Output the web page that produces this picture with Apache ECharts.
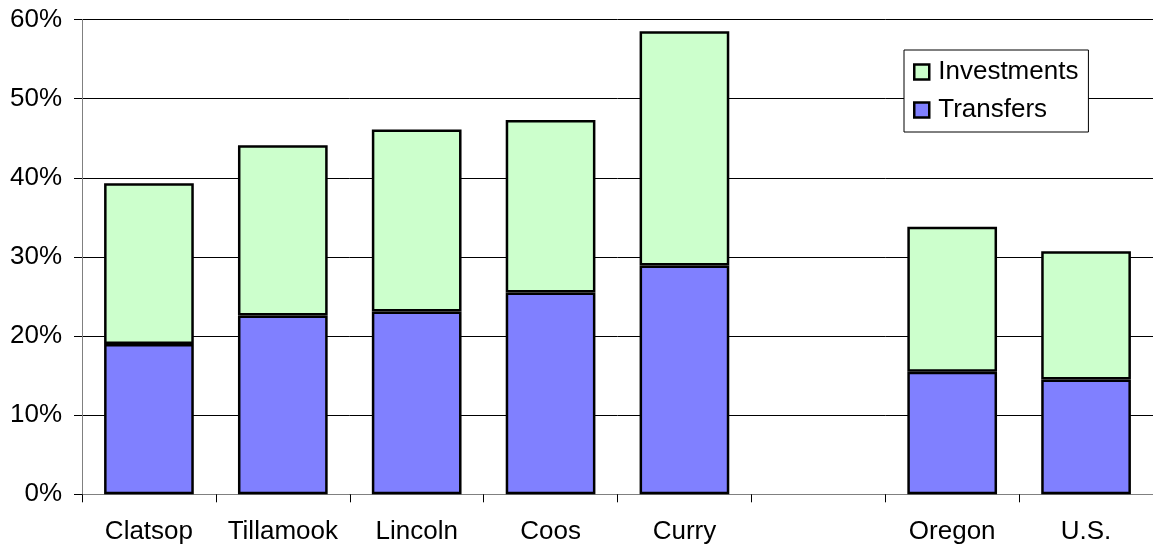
<!DOCTYPE html>
<html>
<head>
<meta charset="utf-8">
<script src="https://cdn.jsdelivr.net/npm/echarts@6/dist/echarts.min.js"></script>
<style>
  html, body { margin: 0; padding: 0; background: #fff; }
  #chart { width: 1153px; height: 548px; }
</style>
</head>
<body>
<div id="chart"></div>
<script>
// Income sources as a share of personal income, by county
const categories = ['Clatsop', 'Tillamook', 'Lincoln', 'Coos', 'Curry', '', 'Oregon', 'U.S.'];
const transfers   = [19.0, 22.6, 23.1, 25.5, 28.9, null, 15.5, 14.5];
const investments = [20.3, 21.5, 23.0, 21.8, 29.6, null, 18.3, 16.2];
const yTicks = [0, 10, 20, 30, 40, 50, 60];

const FONT = '"Liberation Sans", Arial, sans-serif';
const chart = echarts.init(document.getElementById('chart'), null, { renderer: 'canvas' });

chart.setOption({
  animation: false,
  textStyle: { fontFamily: FONT },
  grid: { left: 82, top: 19.5, bottom: 53.7, right: -5, containLabel: false },
  legend: {
    orient: 'vertical',
    left: 904,
    top: 50,
    data: ['Investments', 'Transfers'],
    backgroundColor: '#ffffff',
    borderColor: '#000000',
    borderWidth: 1,
    padding: [9, 10, 9, 9],
    itemWidth: 15,
    itemHeight: 15,
    itemGap: 12,
    icon: 'rect',
    itemStyle: { borderColor: '#000', borderWidth: 2.5 },
    textStyle: { fontFamily: FONT, fontSize: 26, color: '#000', padding: [0, 0, 0, 4] }
  },
  xAxis: {
    type: 'category',
    data: categories,
    axisLine: { lineStyle: { color: '#808080', width: 1 } },
    axisTick: { show: true, alignWithLabel: false, length: 8, lineStyle: { color: '#000' } },
    axisLabel: { color: '#000', fontSize: 26, margin: 25, interval: 0, fontFamily: FONT }
  },
  yAxis: {
    type: 'value',
    min: yTicks[0],
    max: yTicks[yTicks.length - 1],
    interval: 10,
    axisLine: { show: true, lineStyle: { color: '#808080', width: 1 } },
    axisTick: { show: true, length: 8, lineStyle: { color: '#000' } },
    axisLabel: { color: '#000', fontSize: 26, margin: 20, formatter: v => v + '%', fontFamily: FONT },
    splitLine: { show: true, lineStyle: { color: '#000', width: 1 } }
  },
  series: [
    {
      name: 'Transfers',
      type: 'bar',
      stack: 'income',
      data: transfers,
      barWidth: '67%',
      itemStyle: { color: '#8080FF', borderColor: '#000', borderWidth: 2.5 }
    },
    {
      name: 'Investments',
      type: 'bar',
      stack: 'income',
      data: investments,
      barWidth: '67%',
      itemStyle: { color: '#CCFFCC', borderColor: '#000', borderWidth: 2.5 }
    }
  ]
});
</script>
</body>
</html>
